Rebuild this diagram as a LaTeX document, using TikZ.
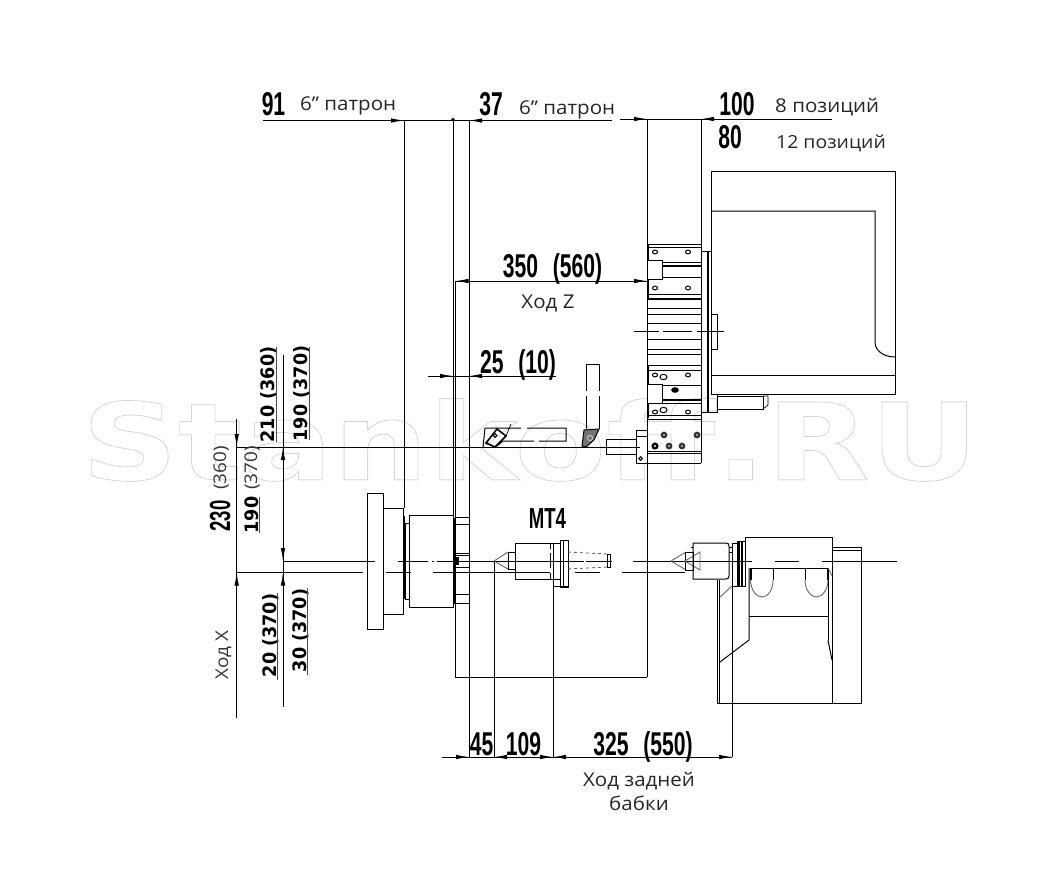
\documentclass[tikz,border=0pt]{standalone}
\usepackage{fontspec}
\usetikzlibrary{arrows.meta}
\setmainfont[FakeStretch=1.08]{Open Sans}
\newfontfamily\cadfont[FakeStretch=0.64]{Liberation Sans}
\newfontfamily\sidefont[FakeStretch=0.95]{DejaVu Sans}
\newfontfamily\markfont[FakeStretch=1.255]{DejaVu Sans}
\tikzset{
  part/.style={line width=1pt,draw=black},
  thin part/.style={line width=0.7pt,draw=black},
  grey part/.style={line width=0.9pt,draw=black!60},
  dimline/.style={line width=1pt,draw=black},
  tip/.style={line width=1pt,draw=black,-{Latex[length=13pt,width=4.5pt]}},
  hole/.style={line width=1pt,draw=black,fill=white},
  darkhole/.style={line width=2pt,draw=black!80,fill=black!35},
  cad/.style={inner sep=0pt,font=\cadfont\bfseries\fontsize{33}{33}\selectfont},
  lab/.style={inner sep=0pt,text=black!85,font=\fontsize{19}{24}\selectfont},
  side/.style={inner sep=0pt,rotate=90,font=\sidefont\bfseries\fontsize{18.5}{19}\selectfont},
  sidecad/.style={inner sep=0pt,rotate=90,font=\cadfont\bfseries\fontsize{29}{29}\selectfont},
  sidelab/.style={inner sep=0pt,rotate=90,text=black!80,font=\fontsize{17.5}{18}\selectfont},
}
\begin{document}
\begin{tikzpicture}[x=1pt,y=-1pt]
\useasboundingbox (0,0) rectangle (1058,879);
% watermark
\node[inner sep=0pt,anchor=center] (mark) at (530,440) {\special{pdf:code q 1 Tr 0.8 w 0.84 G 1 g}\markfont\bfseries\fontsize{107}{107}\selectfont Stankoff.RU\special{pdf:code 0 Tr Q}};

% top dimension
\draw[dimline] (263,120.5) -- (612,120.5);
\draw[dimline] (620,119) -- (832,119);
\draw[tip] (386,120.5) -- (404,120.5);
\draw[tip] (484,120.5) -- (469,120.5);
\draw[tip] (628,119) -- (647,119);
\draw[tip] (718,119) -- (701,119);
\fill (453,119.5) circle (1.8pt);
% main verticals
\draw[part] (404,120) -- (404,508);
\draw[part] (453,120) -- (453,517);
\draw[part] (469,120) -- (469,757);
\draw[part] (647,119) -- (647,677);
\draw[part] (701,119) -- (701,463);
\draw[part] (455.5,281) -- (455.5,677) -- (647,677);

% Z dimension
\draw[dimline] (455.5,281) -- (647,281);
\draw[tip] (472,281) -- (455.5,281);
\draw[tip] (632,281) -- (647,281);
% 25 (10)
\draw[dimline] (428,376) -- (556,376);
\draw[tip] (441,376) -- (453,376);
\draw[tip] (483,376) -- (469,376);

% turret
\foreach \yy in {244.5,247,262,277,294,308,314,323,339,349,354,365,370,385,403,415,419,451,453,463}
  \draw[part] (647,\yy) -- (701,\yy);
\foreach \yy in {266,298.5,400}
  \draw[line width=2pt] (647,\yy) -- (701,\yy);
\draw[line width=2pt] (648,245) -- (648,300) (648,365) -- (648,418);
\draw[part,fill=white] (647,260) rectangle (662,279);
\draw[part,fill=white] (647,384) rectangle (662,403);
\foreach \xx/\yy in {655/252,688/252,655/288,688/288,655/375,688/375,655/412,688/412}
  \draw[hole] (\xx,\yy) ellipse [x radius=2.5pt,y radius=1.9pt];
\foreach \xx/\yy in {663.5/377,663.5/410}
  \draw[hole] (\xx,\yy) ellipse [x radius=3.5pt,y radius=2.7pt];
\fill (675,390) ellipse [x radius=3.8pt,y radius=2.8pt];
\foreach \xx/\yy in {664/435,697/435,669/446,682/446}
  \draw[darkhole] (\xx,\yy) circle (2.3pt);
\draw[line width=2pt,draw=black,fill=black!30] (655,446) circle (2.5pt);
% toolholder plate and shaft
\draw[part,fill=white] (636,430) rectangle (647,463);
\draw[thin part] (636,436) -- (647,436);
\draw[hole] (640.5,458.5) circle (1.8pt);
\draw[part] (636,439) -- (606,439) -- (606,454) -- (636,454);

% right body
\draw[part] (701,251) -- (711,251);
\draw[line width=2pt] (708,251) -- (708,412);
\draw[part] (701,412) -- (717,412) -- (717,394);
\draw[part] (711,171) rectangle (895,394);
\draw[part] (711,211) -- (875,211) -- (875,342) .. controls (875,351) and (884,357) .. (895,357);
\draw[part] (711,375) -- (895,375);
\draw[part] (711,314) -- (717.5,314) -- (717.5,349) -- (711,349);
\draw[part] (717,396) -- (763,396) -- (763,409) -- (717,409);
\draw[thin part] (763,396) -- (768,396) -- (768,405) -- (763,409);
% turret centre line
\draw[part] (634,331) -- (659,331) (663,331) -- (692,331) (697,331) -- (724,331);

% tool 1
\draw[part] (485,428) -- (521,428) (527,428) -- (566,428) -- (566,441) -- (539,441) (534,441) -- (503,441) -- (497,446);
\draw[part] (485,428) -- (483,447);
\draw[line width=1.6pt] (486,443) -- (497,429) -- (506,436) -- (495,447) -- cycle;
\draw[hole] (495,435.5) circle (1.8pt);
\draw[thin part] (506,436) -- (511,424);
% tool 2
\draw[part] (586,429) -- (586,396) (586,391) -- (586,364) -- (599,364) -- (599,391) (599,396) -- (599,429);
\draw[part,fill=black!55] (584,430) -- (599,429) -- (594,440) -- (586,447) -- (582,446) -- cycle;
\draw[line width=0.9pt,draw=black!20] (590,438) circle (2.6pt);
% axis line y=447
\draw[part] (237,447) -- (640,447);

% side dimensions
\draw[dimline] (236.7,419) -- (236.7,718);
\draw[dimline] (283,355) -- (283,707);
\draw[tip] (236.7,432) -- (236.7,447);
\draw[tip] (236.7,587) -- (236.7,572.5);
\draw[tip] (283,462) -- (283,447);
\draw[tip] (283,546) -- (283,561);
\draw[tip] (283,587) -- (283,572.5);

% centre lines
\draw[part] (283,561) -- (375,561) (398,561) -- (428,561) (432,561) -- (434,561) (437,561) -- (584,561) (586,561) -- (612,561);
\draw[part] (633,561) -- (752,561) (775,561) -- (799,561) (822,561) -- (897,561);
\draw[part] (236.7,572.5) -- (363,572.5) (386,572.5) -- (411,572.5) (433,572.5) -- (550,572.5) (575,572.5) -- (600,572.5) (622,572.5) -- (685,572.5);

% headstock
\draw[part] (367,493) rectangle (383,629);
\draw[part] (383,508) rectangle (403,614);
\draw[line width=2.4pt] (404,516) -- (404,599);
\draw[part] (405,523) rectangle (409,599);
\draw[part] (409,515) rectangle (453,607);
\draw[line width=2.6pt] (454.7,518) -- (454.7,604);
\foreach \yy in {517,524,553,555.5,567,594,603}
  \draw[part] (455,\yy) -- (469,\yy);
\fill (455,561) +(0,-4) rectangle +(4,4);

% tailstock quill with centre in chuck
\draw[grey part] (494,561) -- (508,552);
\draw[grey part] (494,561) -- (508,569);
\draw[part] (508,552) rectangle (515,569);
\draw[part] (550,543) -- (515,543) -- (515,579) -- (550,579);
\draw[part] (550,543) -- (550,549) (550,553) -- (550,568) (550,573) -- (550,579);
\draw[part] (553,543.5) -- (553,757);
\draw[part] (550,543.5) -- (560,543.5) (550,579) -- (560,579);
\draw[part] (560,540) rectangle (568,587);
\draw[part] (553,586) -- (568,586);
\draw[part] (563.5,540) -- (563.5,587);
\draw[grey part,dashed] (568,552) -- (607,554);
\draw[grey part,dashed] (568,569) -- (607,567);
\draw[thin part] (607,554) rectangle (610,567);
\draw[part] (494,561) -- (494,757);

% tailstock
\draw[grey part] (671,561) -- (686,552);
\draw[grey part] (671,561) -- (686,570);
\draw[part] (685,552) rectangle (693,570);
\draw[grey part] (700,552) -- (685,561) -- (700,570) -- cycle;
\draw[part] (691,547) -- (693,547);
\draw[part] (693,543) -- (726,543) .. controls (728,543) and (729,544) .. (729,546) -- (729,576) .. controls (729,578) and (728,579) .. (726,579) -- (693,579) -- cycle;
\draw[part] (729,547) -- (732,547) (729,552) -- (732,552);
\draw[part] (732,543) rectangle (737,586);
\draw[part] (737,541) rectangle (745,586);
\draw[line width=2pt] (738.5,541) -- (738.5,586) (742,541) -- (742,586);
\draw[part] (745,586) -- (745,537) -- (832,537) -- (832,703);
\draw[part] (832,547.5) -- (861,547.5) -- (861,703) -- (717,703) -- (717,580);
\draw[thin part] (832,550) -- (861,550);
\draw[thin part] (719.5,580) -- (719.5,703);
\draw[part] (732,586) -- (732,757);
\draw[grey part] (720,597) -- (732,586);
\draw[part] (720,662) -- (749,640) -- (749,568);
\draw[part] (749,616) -- (828,616);
\draw[part] (750,568) -- (828,568);
\draw[line width=2pt] (750.5,568) -- (750.5,580);
\draw[grey part] (750.5,580) .. controls (751,590) and (756,597) .. (762,597) .. controls (768,597) and (773,590) .. (773,580);
\draw[part] (773,568) -- (773,580);
\draw[part] (805,568) -- (805,580);
\draw[line width=2pt] (827.5,568) -- (827.5,580);
\draw[grey part] (805,580) .. controls (805,590) and (811,597) .. (816,597) .. controls (822,597) and (828,590) .. (828,580);
\draw[part] (828,580) -- (828,640);
\draw[part] (828,640) -- (832,660);
\draw[grey part] (828,568) -- (832,576);

% bottom dimension
\draw[dimline] (442,757) -- (732,757);
\draw[tip] (455,757) -- (469,757);
\draw[tip] (508,757) -- (494,757);
\draw[tip] (539,757) -- (553,757);
\draw[tip] (567,757) -- (553,757);
\draw[tip] (718,757) -- (732,757);

% texts
\node[cad,anchor=base] (t91) at (273.5,115) {91};
\node[lab,anchor=base west] (l91) at (300,110) {6” патрон};
\node[cad,anchor=base] (t37) at (491,115) {37};
\node[lab,anchor=base west] (l37) at (519,114) {6” патрон};
\node[cad,anchor=base] (t100) at (737,115) {100};
\node[lab,anchor=base west] (l100) at (775,112) {8 позиций};
\node[cad,anchor=base] (t80) at (730,148) {80};
\node[lab,anchor=base west] (l80) at (776,148) {\fontsize{18}{24}\selectfont 12 позиций};
\node[cad,anchor=base] (t350) at (552.5,277) {350\hspace{9pt} (560)};
\node[lab,anchor=base] (lz) at (548,308) {Ход Z};
\node[cad,anchor=base] (t25) at (518,373) {25\hspace{9pt} (10)};
\node[cad,anchor=base] (tmt) at (547.5,528) {\fontsize{29}{29}\selectfont MT4};
\node[cad,anchor=base] (t45) at (481.5,755) {45};
\node[cad,anchor=base] (t109) at (523.5,755) {109};
\node[cad,anchor=base] (t325) at (643,755) {325\hspace{9pt} (550)};
\node[lab,anchor=north,align=center] (lb) at (639,772) {Ход задней\\бабки};
\node[side,anchor=base] (s210) at (274.5,394.5) {210 (360)};
\node[side,anchor=base] (s190) at (307.5,393.5) {190 (370)};
\node[sidecad,anchor=base] (s230) at (230,516) {230};
\node[sidelab,anchor=base] (s360) at (226,468) {(360)};
\node[side,anchor=base] (s190b) at (258,515) {190};
\node[sidelab,anchor=base] (s370) at (257,468) {(370)};
\node[sidelab,anchor=base] (sx) at (228,655) {Ход X};
\node[side,anchor=base] (s20) at (276.5,635.5) {20 (370)};
\node[side,anchor=base] (s30) at (306.5,630.5) {30 (370)};
\draw[line width=1pt,draw=black!70] (277.5,593) -- (277.5,680) (307.5,588) -- (307.5,675) (276,347) -- (276,442) (309,347) -- (309,440) (259.5,497) -- (259.5,533);
\end{tikzpicture}
\end{document}
